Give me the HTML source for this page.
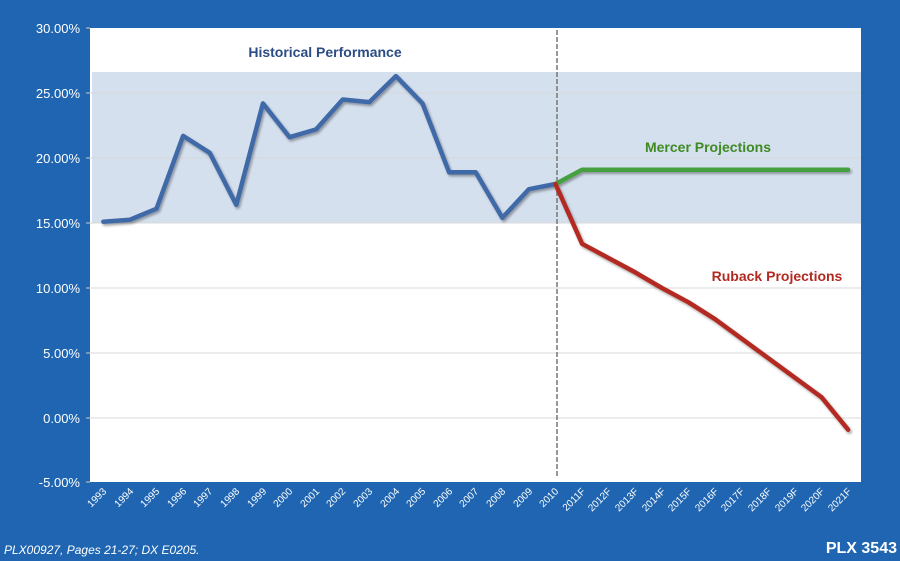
<!DOCTYPE html>
<html><head><style>body{margin:0;background:#1f65b1}svg{display:block}</style></head><body>
<svg width="900" height="561" xmlns="http://www.w3.org/2000/svg" font-family="Liberation Sans, sans-serif">
<defs><filter id="sh" x="-5%" y="-5%" width="110%" height="120%"><feDropShadow dx="1.5" dy="2" stdDeviation="1.2" flood-color="#000" flood-opacity="0.35"/></filter></defs>
<rect width="900" height="561" fill="#1f65b1"/>
<rect x="90" y="28" width="771" height="454" fill="#fff"/>
<rect x="92" y="72" width="769" height="151" fill="#d5e0ef"/>
<g stroke="#d8d8d8" stroke-width="1">
<line x1="90" y1="93" x2="861" y2="93"/><line x1="90" y1="158" x2="861" y2="158"/><line x1="90" y1="223" x2="861" y2="223"/><line x1="90" y1="288" x2="861" y2="288"/><line x1="90" y1="353" x2="861" y2="353"/><line x1="90" y1="418" x2="861" y2="418"/>
</g>
<g stroke="#ccc"><line x1="86" y1="28" x2="90" y2="28"/><line x1="86" y1="93" x2="90" y2="93"/><line x1="86" y1="158" x2="90" y2="158"/><line x1="86" y1="223" x2="90" y2="223"/><line x1="86" y1="288" x2="90" y2="288"/><line x1="86" y1="353" x2="90" y2="353"/><line x1="86" y1="418" x2="90" y2="418"/><line x1="86" y1="482" x2="90" y2="482"/></g>
<line x1="557" y1="30" x2="557" y2="478" stroke="#777" stroke-width="1.5" stroke-dasharray="5,2"/>
<g fill="#fff" font-size="13" text-anchor="end">
<text x="80" y="33">30.00%</text><text x="80" y="98">25.00%</text><text x="80" y="163">20.00%</text><text x="80" y="228">15.00%</text><text x="80" y="293">10.00%</text><text x="80" y="358">5.00%</text><text x="80" y="423">0.00%</text><text x="80" y="487">-5.00%</text>
</g>
<g fill="none" stroke-width="4.5" stroke-linejoin="round" stroke-linecap="round" filter="url(#sh)">
<polyline stroke="#4069a8" points="103.3,221.7 129.9,219.75 156.5,208.7 183.1,135.9 209.7,152.8 236.3,204.8 262.9,103.4 289.5,137.2 316.1,129.4 342.7,99.5 369.3,102.1 395.9,76.1 422.5,103.4 449.1,172.3 475.7,172.3 502.3,217.8 528.9,189.2 555.5,184"/>
<polyline stroke="#45a03f" points="555.5,184 582.1,169.7 848.1,169.7"/>
<polyline stroke="#b32a22" points="555.5,184 582.1,243.8 608.7,258.1 635.3,272.4 661.9,288 688.5,302.3 715.1,319.2 741.7,338.7 768.3,358.2 794.9,377.7 821.5,397.2 848.1,429.7"/>
</g>
<text x="325" y="57" text-anchor="middle" font-size="14" font-weight="bold" fill="#2c4c85">Historical Performance</text>
<text x="708" y="152" text-anchor="middle" font-size="14" font-weight="bold" fill="#3f8a22">Mercer Projections</text>
<text x="777" y="281" text-anchor="middle" font-size="14" font-weight="bold" fill="#b32a22">Ruback Projections</text>
<g fill="#fff" font-size="10" text-anchor="end">
<text transform="translate(107,492) rotate(-45)">1993</text><text transform="translate(134,492) rotate(-45)">1994</text><text transform="translate(160,492) rotate(-45)">1995</text><text transform="translate(187,492) rotate(-45)">1996</text><text transform="translate(213,492) rotate(-45)">1997</text><text transform="translate(240,492) rotate(-45)">1998</text><text transform="translate(267,492) rotate(-45)">1999</text><text transform="translate(293,492) rotate(-45)">2000</text><text transform="translate(320,492) rotate(-45)">2001</text><text transform="translate(346,492) rotate(-45)">2002</text><text transform="translate(373,492) rotate(-45)">2003</text><text transform="translate(400,492) rotate(-45)">2004</text><text transform="translate(426,492) rotate(-45)">2005</text><text transform="translate(453,492) rotate(-45)">2006</text><text transform="translate(479,492) rotate(-45)">2007</text><text transform="translate(506,492) rotate(-45)">2008</text><text transform="translate(533,492) rotate(-45)">2009</text><text transform="translate(559,492) rotate(-45)">2010</text><text transform="translate(586,492) rotate(-45)">2011F</text><text transform="translate(612,492) rotate(-45)">2012F</text><text transform="translate(639,492) rotate(-45)">2013F</text><text transform="translate(666,492) rotate(-45)">2014F</text><text transform="translate(692,492) rotate(-45)">2015F</text><text transform="translate(719,492) rotate(-45)">2016F</text><text transform="translate(745,492) rotate(-45)">2017F</text><text transform="translate(772,492) rotate(-45)">2018F</text><text transform="translate(799,492) rotate(-45)">2019F</text><text transform="translate(825,492) rotate(-45)">2020F</text><text transform="translate(852,492) rotate(-45)">2021F</text>
</g>
<text x="4" y="554" font-size="12" font-style="italic" fill="#fff">PLX00927, Pages 21-27; DX E0205.</text>
<text x="897" y="553" text-anchor="end" font-size="16" font-weight="bold" fill="#fff">PLX 3543</text>
</svg>
</body></html>
